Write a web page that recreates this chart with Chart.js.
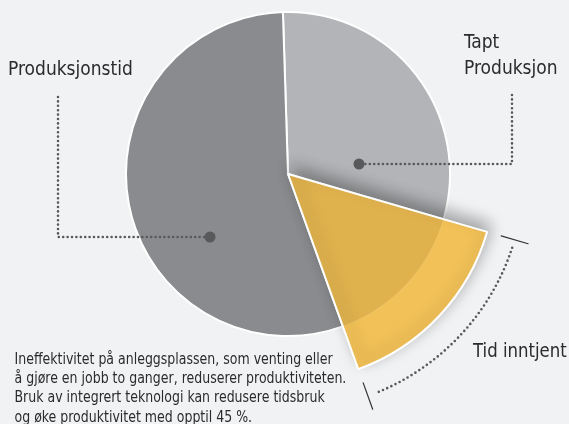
<!DOCTYPE html>
<html>
<head>
<meta charset="utf-8">
<script src="https://cdn.jsdelivr.net/npm/chart.js@4.4.0/dist/chart.umd.min.js"></script>
<style>
  html, body { margin: 0; padding: 0; background: #f1f2f4; }
  #wrap { width: 569px; height: 424px; }
</style>
</head>
<body>
<div id="wrap"><canvas id="chart" width="569" height="424"></canvas></div>
<script>
// --- DATOS ---
const categorias = ['Tapt Produksjon', 'Tid inntjent', 'Produksjonstid'];
const valores = [30, 15, 55];
const colores = ['#b3b4b7', '#f2c157', '#8a8b8e'];
const notaLineas = [
  'Ineffektivitet på anleggsplassen, som venting eller',
  'å gjøre en jobb to ganger, reduserer produktiviteten.',
  'Bruk av integrert teknologi kan redusere tidsbruk',
  'og øke produktivitet med opptil 45 %.'
];

// --- ESTILO ---
const RADIO = 162;
const ESCALA_TID = 1.28;      // el sector amarillo sobresale
const FUENTE = '"Liberation Sans Narrow", "DejaVu Sans Condensed", "Roboto", sans-serif';
const GRIS_PUNTOS = '#58595b';

function colorSector(ctx) {
  const chart = ctx.chart;
  const area = chart.chartArea;
  if (ctx.dataIndex !== 1 || !area) return colores[ctx.dataIndex];
  const cx = (area.left + area.right) / 2;
  const cy = (area.top + area.bottom) / 2;
  const rOut = RADIO * ESCALA_TID;
  const g = chart.ctx.createRadialGradient(cx, cy, 0, cx, cy, rOut);
  const corte = RADIO / rOut;
  g.addColorStop(0, '#e0b24e');
  g.addColorStop(corte - 0.004, '#e0b24e');
  g.addColorStop(corte, '#efc464');
  g.addColorStop(corte + 0.006, '#f2c157');
  g.addColorStop(1, '#f2c157');
  return g;
}

function lineaPunteada(ctx, puntos) {
  ctx.save();
  ctx.strokeStyle = GRIS_PUNTOS;
  ctx.lineWidth = 2.6;
  ctx.lineCap = 'round';
  ctx.setLineDash([0, 4.4]);
  ctx.beginPath();
  ctx.moveTo(puntos[0][0], puntos[0][1]);
  for (let i = 1; i < puntos.length; i++) ctx.lineTo(puntos[i][0], puntos[i][1]);
  ctx.stroke();
  ctx.restore();
}

function punto(ctx, x, y) {
  ctx.save();
  ctx.fillStyle = GRIS_PUNTOS;
  ctx.beginPath();
  ctx.arc(x, y, 5.5, 0, Math.PI * 2);
  ctx.fill();
  ctx.restore();
}

// texto angosto (la fuente condensada no siempre esta)
function texto(ctx, t, x, y, escala) {
  ctx.save();
  ctx.scale(escala, 1);
  ctx.fillText(t, x / escala, y);
  ctx.restore();
}

const anotaciones = {
  id: 'anotaciones',
  afterDatasetsUpdate(chart) {
    const arc = chart.getDatasetMeta(0).data[1];
    arc.outerRadius = arc.outerRadius * ESCALA_TID;
  },
  afterDatasetsDraw(chart) {
    const ctx = chart.ctx;
    const arc = chart.getDatasetMeta(0).data[1];

    // sombra del sector amarillo (hacia arriba)
    ctx.save();
    ctx.shadowColor = 'rgba(0,0,0,0.32)';
    ctx.shadowBlur = 16;
    ctx.shadowOffsetX = 3;
    ctx.shadowOffsetY = -7;
    arc.draw(ctx);
    ctx.restore();

    // lineas guia
    lineaPunteada(ctx, [[58, 97], [58, 237], [210, 237]]);
    punto(ctx, 210, 237);
    lineaPunteada(ctx, [[512, 95], [512, 164], [359, 164]]);
    punto(ctx, 359, 164);

    // arco alrededor de "Tid inntjent"
    ctx.save();
    ctx.strokeStyle = GRIS_PUNTOS;
    ctx.lineWidth = 2.6;
    ctx.lineCap = 'round';
    ctx.setLineDash([0, 4.6]);
    ctx.beginPath();
    ctx.arc(arc.x, arc.y, 236, arc.startAngle + 0.035, arc.endAngle - 0.035);
    ctx.stroke();
    ctx.setLineDash([]);
    ctx.strokeStyle = '#333';
    ctx.lineWidth = 1.2;
    [arc.startAngle, arc.endAngle].forEach(a => {
      ctx.beginPath();
      ctx.moveTo(arc.x + 222 * Math.cos(a), arc.y + 222 * Math.sin(a));
      ctx.lineTo(arc.x + 250 * Math.cos(a), arc.y + 250 * Math.sin(a));
      ctx.stroke();
    });
    ctx.restore();

    // textos
    ctx.save();
    ctx.fillStyle = '#2b2b2b';
    ctx.textBaseline = 'alphabetic';
    ctx.font = '20px ' + FUENTE;
    texto(ctx, categorias[2], 8, 75, 0.95);
    texto(ctx, 'Tapt', 464, 48, 0.95);
    texto(ctx, 'Produksjon', 464, 74, 0.95);
    texto(ctx, categorias[1], 473, 357, 0.92);
    ctx.font = '15px ' + FUENTE;
    notaLineas.forEach((l, i) => texto(ctx, l, 14.5, 364 + i * 19.2, 0.93));
    ctx.restore();
  }
};

const ctx = document.getElementById('chart').getContext('2d');
const chart = new Chart(ctx, {
  type: 'pie',
  data: {
    labels: categorias,
    datasets: [{
      data: valores,
      backgroundColor: colorSector,
      borderColor: '#ffffff',
      borderWidth: 2
    }]
  },
  options: {
    responsive: false,
    animation: false,
    events: [],
    rotation: -1.8,
    radius: RADIO,
    layout: { padding: { left: 100, right: 93, top: 0, bottom: 76 } },
    plugins: {
      legend: { display: false },
      title: { display: false },
      tooltip: { enabled: false }
    }
  },
  plugins: [anotaciones]
});
</script>
</body>
</html>
